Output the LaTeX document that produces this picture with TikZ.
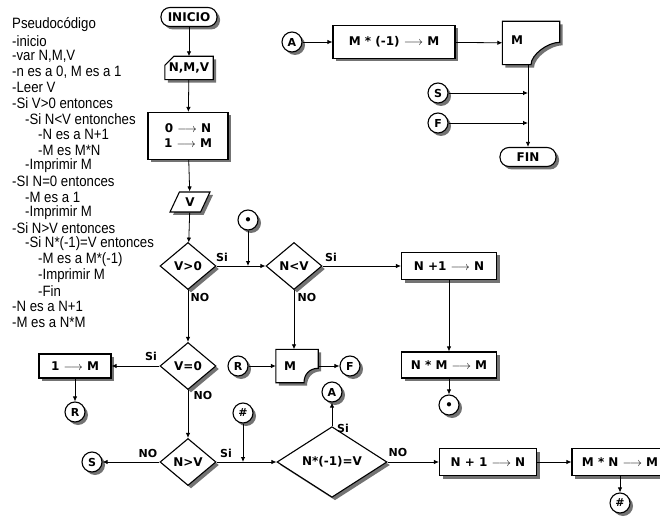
\documentclass[tikz,border=0pt]{standalone}
\usepackage{fontspec}
\setmainfont{Liberation Sans}
\newfontfamily\bloque{DejaVu Sans}
\newfontfamily\pseudofont{Liberation Sans}[FakeStretch=0.88]
\usetikzlibrary{arrows.meta,shapes.geometric,shadows,backgrounds}
\newcommand{\conector}[4]{\node[conector] (#1) at (#2,#3) {#4};}
\newcommand{\desplaza}[3]{\makebox[0pt]{\raisebox{#2}[0pt][0pt]{\hspace*{#1}#3}}}
\tikzset{
  sombra/.style={drop shadow={shadow xshift=3pt,shadow yshift=-3pt,fill=black!55,opacity=1}},
  base/.style={draw,fill=white,line width=1.1pt,sombra,font=\bloque\bfseries\fontsize{12}{15}\selectfont,inner sep=1pt},
  proceso/.style={base,rectangle,minimum height=27pt},
  terminal/.style={base,rectangle,rounded corners=9pt,minimum width=56pt,minimum height=19pt},
  decision/.style={base,diamond,minimum width=56pt,minimum height=47pt,inner sep=0pt},
  datos/.style={base,trapezium,trapezium left angle=65,trapezium right angle=115,trapezium stretches=true,minimum width=40pt,minimum height=20pt},
  conector/.style={base,circle,minimum size=20pt,inner sep=0pt,font=\bloque\bfseries\fontsize{11}{13}\selectfont},
  forma/.style={inner sep=0pt,font=\bloque\bfseries\fontsize{12}{15}\selectfont},
  contorno/.style={draw,fill=white,line width=1.1pt,sombra},
  flecha/.style={-{Latex[length=5pt,width=4.5pt]},line width=0.8pt},
  rotulo/.style={inner sep=0pt,font=\bloque\bfseries\fontsize{11}{13}\selectfont},
  pseudo/.style={anchor=west,inner sep=0pt,font=\pseudofont\fontsize{15}{15}\selectfont}
}
\begin{document}
\begin{tikzpicture}[x=1pt,y=-1pt]
\useasboundingbox (0,0) rectangle (660,518);
\foreach \niv/\txt [count=\i from 0] in {0/Pseudocódigo,0/-inicio,0/{-var N,M,V},0/{-n es a 0, M es a 1},0/-Leer V,0/-Si V>0 entonces,1/-Si N<V entonches,2/-N es a N+1,2/-M es M*N,1/-Imprimir M,0/-SI N=0 entonces,1/-M es a 1,1/-Imprimir M,0/-Si N>V entonces,1/-Si N*(-1)=V entonces,2/-M es a M*(-1),2/-Imprimir M,2/-Fin,0/-N es a N+1,0/-M es a N*M}
  \node[pseudo] (l\i) at (12+13*\niv,25+15.65*\i) {\txt};

\node[terminal] (inicio) at (189,17) {INICIO};
\node[forma,minimum width=48pt,minimum height=23pt] (lectura) at (189,68) {N,M,V};
\node[proceso,minimum width=80pt,minimum height=47pt,align=center] (asigna) at (188,136) {0 $\longrightarrow$ N\\1 $\longrightarrow$ M};
\node[datos] (leerv) at (190,202) {V};
\node[decision] (d1) at (188,266) {V>0};
\node[decision] (d2) at (294,266) {N<V};
\node[proceso,minimum width=95pt] (p1) at (449,266) {N +1 $\longrightarrow$ N};
\node[proceso,minimum width=95pt,minimum height=26pt] (p2) at (449,365) {N * M $\longrightarrow$ M};
\node[forma,minimum width=42pt,minimum height=33pt] (sal1) at (297,366) {\desplaza{-14pt}{-4.4pt}{M}};
\node[decision] (d3) at (188,366) {V=0};
\node[proceso,minimum width=72pt,minimum height=24pt] (p3) at (75,366) {1 $\longrightarrow$ M};
\node[decision] (d4) at (188,462) {N>V};
\node[decision,minimum width=110pt,minimum height=52pt] (d5) at (332,462) {N*(-1)=V};
\node[proceso,minimum width=97pt] (p4) at (488,462) {N + 1 $\longrightarrow$ N};
\node[proceso,minimum width=96pt] (p5) at (620,462) {M * N $\longrightarrow$ M};
\node[proceso,minimum width=122pt,minimum height=33pt] (p6) at (394,42) {M * (-1) $\longrightarrow$ M};
\node[forma,minimum width=57pt,minimum height=43pt] (sal2) at (531,43) {\desplaza{-28pt}{-1.4pt}{M}};
\node[terminal] (fin) at (528,157) {FIN};

\foreach \n/\x/\y/\t in {punto1/248/220/{$\bullet$},punto2/449/405/{$\bullet$},r1/238/366/R,f1/350/366/F,r2/75/412/R,s1/92/462/S,gato1/243/413/\#,a1/332/392/A,gato2/620/503/\#,a2/292/42/A,s2/438/93/S,f2/438/123/F}
  {\conector{\n}{\x}{\y}{\t}}

\begin{scope}[on background layer]
\draw[contorno] (lectura.south west) -- (lectura.south east) -- (lectura.north east) -- ([xshift=9pt]lectura.north west) -- ([yshift=-9pt]lectura.north west) -- cycle;
\draw[contorno] (sal1.north west) -- (sal1.north east) -- ([yshift=-19pt]sal1.north east) .. controls ([xshift=-9pt,yshift=-19pt]sal1.north east) and ([xshift=7pt,yshift=8pt]sal1.south) .. ([xshift=7pt]sal1.south) -- (sal1.south west) -- cycle;
\draw[contorno] (sal2.north west) -- (sal2.north east) -- ([yshift=-21pt]sal2.north east) .. controls ([xshift=-12pt,yshift=-21pt]sal2.north east) and ([yshift=10pt]sal2.south) .. (sal2.south) -- (sal2.south west) -- cycle;
\end{scope}

\draw[flecha] (inicio) -- (lectura);
\draw[flecha] (lectura) -- (asigna);
\draw[flecha] (asigna) -- (leerv);
\draw[flecha] (leerv) -- (d1);
\draw[flecha] (d1) -- (d2);
\draw[flecha] (punto1) -- (punto1 |- d1);
\draw[flecha] (d2) -- (p1);
\draw[flecha] (p1) -- (p2);
\draw[flecha] (p2) -- (punto2);
\draw[flecha] (d2) -- (d2 |- sal1.north);
\draw[flecha] (r1) -- (sal1);
\draw[flecha] (sal1) -- (f1);
\draw[flecha] (d1) -- (d3);
\draw[flecha] (d3) -- (p3);
\draw[flecha] (p3) -- (r2);
\draw[flecha] (d3) -- (d4);
\draw[flecha] (d4) -- (s1);
\draw[flecha] (d4) -- (d5);
\draw[flecha] (gato1) -- (gato1 |- d4);
\draw[flecha] (d5) -- (a1);
\draw[flecha] (d5) -- (p4);
\draw[flecha] (p4) -- (p5);
\draw[flecha] (p5) -- (gato2);
\draw[flecha] (a2) -- (p6);
\draw[flecha] (p6) -- (sal2);
\draw[flecha] (sal2.south -| fin) -- (fin);
\draw[flecha] (s2) -- (s2 -| fin);
\draw[flecha] (f2) -- (f2 -| fin);

\foreach \n/\x/\y/\t in {si1/222/257/Si,no1/200/297/NO,si2/331/257/Si,no2/307/297/NO,si3/151/356/Si,no3/203/395/NO,no4/148/453/NO,si4/226/453/Si,si5/343/428/Si,no5/398/452/NO}
  \node[rotulo] (\n) at (\x,\y) {\t};
\end{tikzpicture}
\end{document}
